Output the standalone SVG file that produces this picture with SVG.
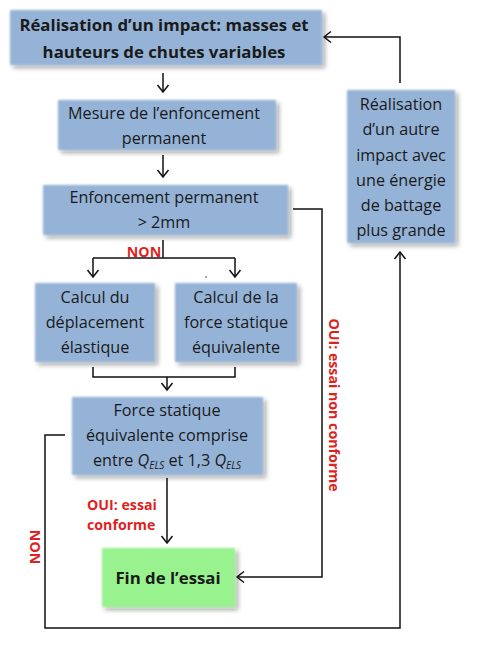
<svg xmlns="http://www.w3.org/2000/svg" width="480" height="649" viewBox="0 0 480 649">
<defs>
<filter id="sh" x="-10%" y="-10%" width="125%" height="130%">
<feGaussianBlur in="SourceGraphic" stdDeviation="0.8" result="b"/>
<feDropShadow in="b" dx="3" dy="3" stdDeviation="2" flood-color="#000" flood-opacity="0.35"/>
</filter>
<marker id="ah" markerUnits="userSpaceOnUse" markerWidth="14" markerHeight="14" viewBox="0 0 14 14" refX="11" refY="7" orient="auto">
<path d="M4,1.5 L11,7 L4,12.5" fill="none" stroke="#111" stroke-width="1.5"/>
</marker>
</defs>
<style>
.box{fill:#95b3d7;filter:url(#sh)}
.green{fill:#98f38f;filter:url(#sh)}
text{font-family:"Open Sans","Liberation Sans",sans-serif;fill:#1a1a1a;text-anchor:middle}
.t{font-size:16.2px}
.b{font-size:16.8px;font-weight:bold}
.red{fill:#e01f1f;font-weight:bold;font-size:14.2px}
.ln{fill:none;stroke:#111;stroke-width:1.5}
</style>
<rect width="480" height="649" fill="#fff"/>
<g id="connectors">
<path class="ln" d="M163,73 V92" marker-end="url(#ah)"/>
<path class="ln" d="M163,155 V177" marker-end="url(#ah)"/>
<path class="ln" d="M163,240 V258 M93,258 H235"/>
<path class="ln" d="M93,258 V277" marker-end="url(#ah)"/>
<path class="ln" d="M235,258 V277" marker-end="url(#ah)"/>
<path class="ln" d="M93,367 V377 H235 V367"/>
<path class="ln" d="M167,377 V390" marker-end="url(#ah)"/>
<path class="ln" d="M167,478 V543" marker-end="url(#ah)"/>
<path class="ln" d="M293,209 H322 V577 H237" marker-end="url(#ah)"/>
<path class="ln" d="M65,435 H45 V628 H400 V252" marker-end="url(#ah)"/>
<path class="ln" d="M400,83 V37 H324" marker-end="url(#ah)"/>
<circle cx="206" cy="277" r="0.8" fill="#333"/>
<text class="red" x="144" y="257">NON</text>
<text class="red" x="87" y="510" style="text-anchor:start">OUI: essai</text>
<text class="red" x="87" y="530" style="text-anchor:start">conforme</text>
<text class="red" transform="translate(329,405) rotate(90)">OUI: essai non conforme</text>
<text class="red" transform="translate(40,547) rotate(-90)">NON</text>
</g>
<g id="n1">
<rect class="box" x="10" y="10" width="312" height="55"/>
<text class="b" x="164" y="31">Réalisation d’un impact: masses et</text>
<text class="b" x="164" y="58">hauteurs de chutes variables</text>
</g>
<g id="n2">
<rect class="box" x="58" y="100" width="218" height="50"/>
<text class="t" x="164" y="119">Mesure de l’enfoncement</text>
<text class="t" x="164" y="144">permanent</text>
</g>
<g id="n3">
<rect class="box" x="43" y="185" width="245" height="50"/>
<text class="t" x="164" y="203">Enfoncement permanent</text>
<text class="t" x="164" y="228">&gt; 2mm</text>
</g>
<g id="n4">
<rect class="box" x="35" y="283" width="120" height="79"/>
<text class="t" x="95" y="303">Calcul du</text>
<text class="t" x="95" y="328">déplacement</text>
<text class="t" x="95" y="353">élastique</text>
</g>
<g id="n5">
<rect class="box" x="175" y="283" width="122" height="79"/>
<text class="t" x="236" y="303">Calcul de la</text>
<text class="t" x="236" y="328">force statique</text>
<text class="t" x="236" y="353">équivalente</text>
</g>
<g id="n6">
<rect class="box" x="72" y="397" width="191" height="78"/>
<text class="t" x="167" y="416">Force statique</text>
<text class="t" x="167" y="441">équivalente comprise</text>
<text class="t" x="167" y="466">entre <tspan font-style="italic">Q</tspan><tspan font-style="italic" font-size="10" dy="3">ELS</tspan><tspan dy="-3"> et 1,3 </tspan><tspan font-style="italic">Q</tspan><tspan font-style="italic" font-size="10" dy="3">ELS</tspan></text>
</g>
<g id="n7">
<rect class="box" x="347" y="90" width="108" height="153"/>
<text class="t" x="401" y="110">Réalisation</text>
<text class="t" x="401" y="135">d’un autre</text>
<text class="t" x="401" y="161">impact avec</text>
<text class="t" x="401" y="186">une énergie</text>
<text class="t" x="401" y="211">de battage</text>
<text class="t" x="401" y="236">plus grande</text>
</g>
<g id="n8">
<rect class="green" x="102" y="548" width="133" height="59"/>
<text class="b" x="168" y="584">Fin de l’essai</text>
</g>
</svg>
